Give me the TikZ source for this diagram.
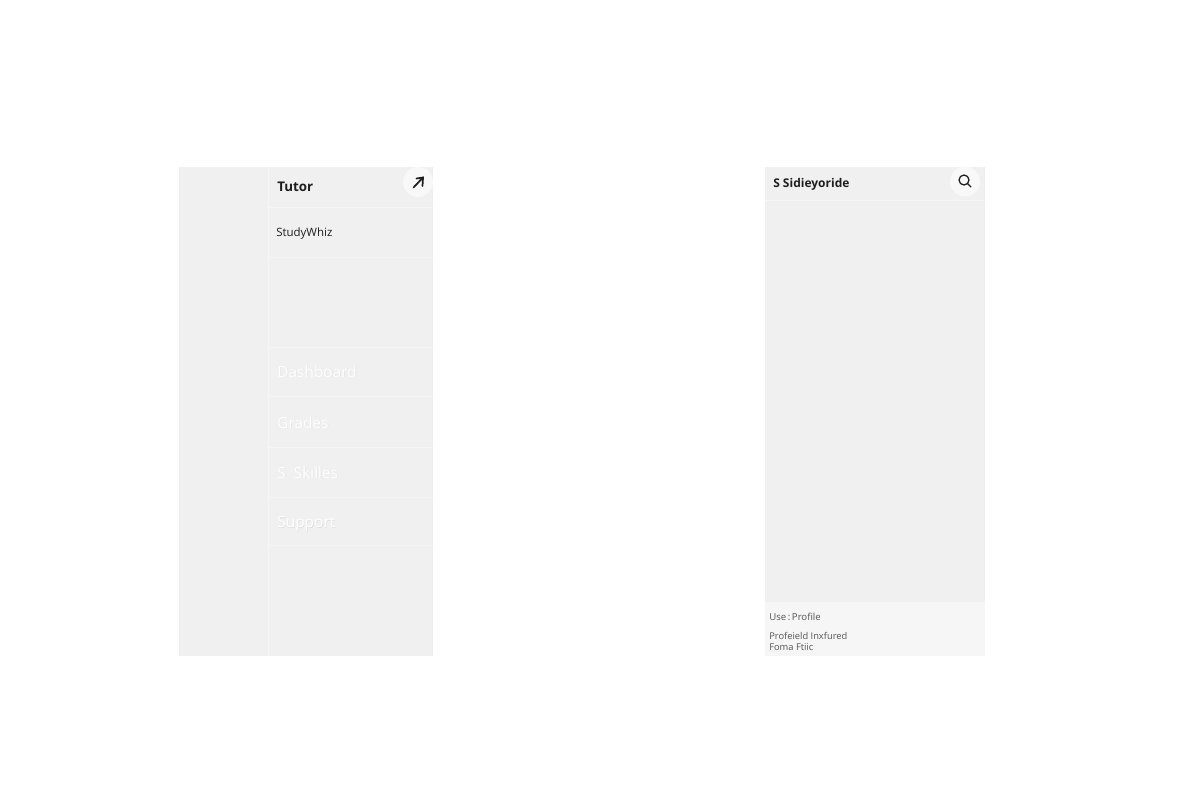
\documentclass[tikz,border=0pt]{standalone}
\usepackage{fontspec}
\setmainfont{Open Sans}
\definecolor{panel}{HTML}{F0F0F0}
\definecolor{sepl}{HTML}{F5F5F5}
\definecolor{footer}{HTML}{F6F6F6}
\definecolor{ink}{HTML}{1E1E1E}
\definecolor{inkb}{HTML}{555555}
\tikzset{
  x=0.75pt,y=-0.75pt,
  block/.style={fill=#1,draw=none},
  sep/.style={draw=sepl,line width=0.75pt},
  lbl/.style={anchor=base west,inner sep=0pt,text=ink},
  title/.style={lbl,font=\fontsize{10}{12}\selectfont\bfseries},
  titleb/.style={lbl,font=\fontsize{9}{11}\selectfont\bfseries},
  small/.style={lbl,font=\fontsize{8.6}{11}\selectfont},
  tiny/.style={lbl,text=inkb,font=\fontsize{7}{8.5}\selectfont},
  menu/.style={lbl,text=white,font=\fontsize{11.6}{14}\selectfont},
  menushade/.style={lbl,text=black!12,font=\fontsize{11.6}{14}\selectfont},
  iconbg/.style={circle,fill=#1,draw=none,minimum size=22.5pt,inner sep=0pt},
  icon/.style={draw=ink,line width=#1,line cap=round}
}
\begin{document}
\begin{tikzpicture}
\useasboundingbox (0,0) rectangle (1200,800);
\fill[white] (0,0) rectangle (1200,800);
% left panel
\fill[block=panel] (179,167) rectangle (433,656);
\draw[sep] (268,167) -- (268,656);
\draw[sep] (268,207.5) -- (433,207.5);
\draw[sep] (268,257) -- (433,257);
\draw[sep] (268,347) -- (433,347);
\draw[sep] (268,396) -- (433,396);
\draw[sep] (268,447) -- (433,447);
\draw[sep] (268,497) -- (433,497);
\draw[sep] (268,545) -- (433,545);
\node[title] (tutor) at (277,191) {Tutor};
\node[small] (study) at (276,236.5) {StudyWhiz};
\node[iconbg=white!55!panel] (lbtn) at (418,182) {};
\coordinate (la) at (413.5,187.5);
\coordinate (lb) at (423,177.5);
\draw[icon=1.3pt] (la) -- (lb);
\draw[icon=1.3pt] (416.5,178.5) -- (lb) -- (422.5,186);
\foreach \n/\t/\y in {dash/Dashboard/377,grad/Grades/428,skil/S\ \ Skilles/478,supp/Support/527.5}{
  \node[menushade] at (277.6,\y+0.5) {\t};
  \node[menu] (\n) at (277,\y) {\t};
}
% right panel
\fill[block=panel] (765,167) rectangle (985,602);
\fill[block=footer] (765,602) rectangle (985,656);
\draw[sep] (765,200.5) -- (985,200.5);
\node[titleb] (side) at (773,187) {S Sidieyoride};
\node[iconbg=white!55!panel] (rbtn) at (965,181.5) {};
\draw[icon=0.95pt] (964,180) circle[radius=5];
\draw[icon=0.95pt] (967.6,183.6) -- (971,187);
\node[lbl,text=inkb,font=\fontsize{7.2}{9}\selectfont] (prof) at (769,620.5) {Use\,:\,Profile};
\node[tiny] (pi) at (769,639) {Profeield Inxfured};
\node[tiny] (ff) at (769,650) {Foma Ftiic};
\end{tikzpicture}
\end{document}
